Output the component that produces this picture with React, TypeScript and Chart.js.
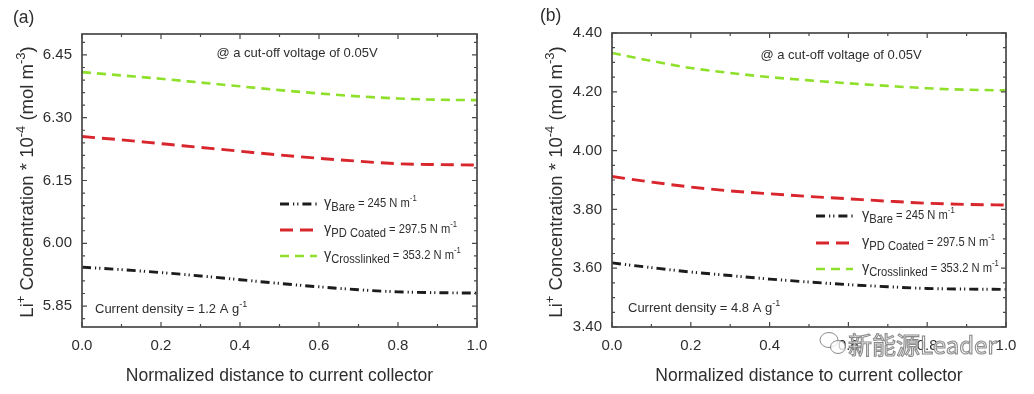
import React, { useEffect, useRef } from "react";
import { Chart, registerables } from "chart.js";

Chart.register(...registerables);

// ---------------- data ----------------
const xPositions = [0, 0.1, 0.2, 0.3, 0.4, 0.5, 0.6, 0.7, 0.8, 0.9, 1.0];

const bareA = [5.943, 5.937, 5.93, 5.922, 5.913, 5.904, 5.896, 5.889, 5.884, 5.882, 5.881];
const pdCoatedA = [6.255, 6.247, 6.238, 6.229, 6.22, 6.211, 6.203, 6.196, 6.19, 6.188, 6.187];
const crosslinkedA = [6.409, 6.401, 6.393, 6.384, 6.375, 6.366, 6.358, 6.351, 6.346, 6.343, 6.342];

const bareB = [3.618, 3.602, 3.587, 3.575, 3.563, 3.553, 3.544, 3.537, 3.531, 3.529, 3.528];
const pdCoatedB = [3.912, 3.893, 3.876, 3.863, 3.853, 3.844, 3.836, 3.828, 3.821, 3.817, 3.815];
const crosslinkedB = [4.332, 4.305, 4.281, 4.264, 4.25, 4.239, 4.229, 4.22, 4.212, 4.207, 4.205];

const xTickValues = [0, 0.2, 0.4, 0.6, 0.8, 1.0];
const yTicksA = [5.85, 6.0, 6.15, 6.3, 6.45];
const yTicksB = [3.4, 3.6, 3.8, 4.0, 4.2, 4.4];

const seriesNames = ["Bare", "PD Coated", "Crosslinked"];
const seriesGamma = ["245", "297.5", "353.2"];

// ---------------- style ----------------
const FONT = "'Liberation Sans', Arial, Helvetica, sans-serif";
const TXT = "#2e2e2e";
const AXIS = "#484848";
const COLORS = ["#1c1c1c", "#d8262c", "#8ee02a"];
const DASHES = [
  [9, 4, 1.2, 3, 1.2, 4],
  [13, 7],
  [9, 6],
];
const WIDTHS = [2.9, 2.9, 2.6];

const W = 517;
const H = 394;

type Seg = { t: string; size: number; dy?: number; sx?: number; family?: string };

function segWidth(ctx: CanvasRenderingContext2D, s: Seg) {
  ctx.font = `${s.size}px ${s.family || FONT}`;
  return ctx.measureText(s.t).width * (s.sx || 1);
}

function segsWidth(ctx: CanvasRenderingContext2D, segs: Seg[]) {
  return segs.reduce((a, s) => a + segWidth(ctx, s), 0);
}

function drawSegs(ctx: CanvasRenderingContext2D, segs: Seg[], x: number, y: number) {
  let cx = x;
  for (const s of segs) {
    const w = segWidth(ctx, s);
    ctx.save();
    ctx.font = `${s.size}px ${s.family || FONT}`;
    ctx.translate(cx, y + (s.dy || 0));
    ctx.scale(s.sx || 1, 1);
    ctx.fillText(s.t, 0, 0);
    ctx.restore();
    cx += w;
  }
  return cx - x;
}

type PanelCfg = {
  key: string;
  offset: number;
  label: string;
  labelX: number;
  labelY: number;
  plotLeft: number;
  plotRight: number;
  plotTop: number;
  yMin: number;
  yMax: number;
  yTicks: number[];
  minorStep: number;
  bare: number[];
  pd: number[];
  cross: number[];
  yTitleX: number;
  noteX: number;
  noteY: number;
  density: string;
  densityX: number;
  densityY: number;
  legendX0: number;
  legendX1: number;
  legendTextX: number;
  legendY: number[];
  watermark: boolean;
};

const panels: PanelCfg[] = [
  {
    key: "a",
    offset: 0,
    label: "(a)",
    labelX: 13,
    labelY: 23,
    plotLeft: 82,
    plotRight: 477,
    plotTop: 34,
    yMin: 5.8,
    yMax: 6.5,
    yTicks: yTicksA,
    minorStep: 0.03,
    bare: bareA,
    pd: pdCoatedA,
    cross: crosslinkedA,
    yTitleX: 26,
    noteX: 297,
    noteY: 57,
    density: "1.2",
    densityX: 95,
    densityY: 313,
    legendX0: 280,
    legendX1: 317,
    legendTextX: 324,
    legendY: [204, 230, 256],
    watermark: false,
  },
  {
    key: "b",
    offset: 517,
    label: "(b)",
    labelX: 23,
    labelY: 21,
    plotLeft: 95,
    plotRight: 489,
    plotTop: 33,
    yMin: 3.4,
    yMax: 4.4,
    yTicks: yTicksB,
    minorStep: 0.05,
    bare: bareB,
    pd: pdCoatedB,
    cross: crosslinkedB,
    yTitleX: 38,
    noteX: 324,
    noteY: 59,
    density: "4.8",
    densityX: 111,
    densityY: 312,
    legendX0: 299,
    legendX1: 336,
    legendTextX: 345,
    legendY: [216, 243, 269],
    watermark: true,
  },
];

function makeDecor(p: PanelCfg) {
  return {
    id: "decor_" + p.key,
    afterDraw(chart: any) {
      const ctx: CanvasRenderingContext2D = chart.ctx;
      const a = chart.chartArea;
      const xs = chart.scales.x;
      const ys = chart.scales.y;
      ctx.save();

      // frame
      ctx.strokeStyle = AXIS;
      ctx.lineWidth = 1.7;
      ctx.strokeRect(a.left, a.top, a.right - a.left, a.bottom - a.top);

      // x ticks (inward, top and bottom)
      ctx.lineWidth = 1.2;
      ctx.beginPath();
      for (let i = 0; i <= 10; i++) {
        const px = xs.getPixelForValue(i / 10);
        const len = i % 2 === 0 ? 5 : 3;
        ctx.moveTo(px, a.bottom);
        ctx.lineTo(px, a.bottom - len);
        ctx.moveTo(px, a.top);
        ctx.lineTo(px, a.top + len);
      }
      // y ticks
      let start = p.yTicks[0];
      while (start - p.minorStep >= p.yMin - 1e-9) start -= p.minorStep;
      for (let v = start; v <= p.yMax + 1e-9; v += p.minorStep) {
        const py = ys.getPixelForValue(v);
        const major = p.yTicks.some((t) => Math.abs(t - v) < 1e-6);
        const len = major ? 5 : 3;
        ctx.moveTo(a.left, py);
        ctx.lineTo(a.left + len, py);
        ctx.moveTo(a.right, py);
        ctx.lineTo(a.right - len, py);
      }
      ctx.stroke();

      ctx.fillStyle = TXT;
      ctx.textBaseline = "alphabetic";
      ctx.textAlign = "left";

      // panel label
      ctx.font = `17.5px ${FONT}`;
      ctx.fillText(p.label, p.labelX, p.labelY);

      // x title
      ctx.font = `17.5px ${FONT}`;
      ctx.textAlign = "center";
      ctx.fillText("Normalized distance to current collector", (a.left + a.right) / 2, 381);
      ctx.textAlign = "left";

      // y title (rotated)
      const ySegs: Seg[] = [
        { t: "Li", size: 18.5 },
        { t: "+", size: 13, dy: -7.5 },
        { t: " Concentration * 10", size: 18.5 },
        { t: "-4", size: 13, dy: -7.5 },
        { t: " (mol m", size: 18.5 },
        { t: "-3", size: 13, dy: -7.5 },
        { t: ")", size: 18.5 },
      ];
      const yw = segsWidth(ctx, ySegs);
      ctx.save();
      ctx.translate(p.yTitleX, 182);
      ctx.rotate(-Math.PI / 2);
      drawSegs(ctx, ySegs, -yw / 2, 6.5);
      ctx.restore();

      // note
      ctx.font = `13px ${FONT}`;
      ctx.textAlign = "center";
      ctx.fillText("@ a cut-off voltage of 0.05V", p.noteX, p.noteY);
      ctx.textAlign = "left";

      // current density
      drawSegs(
        ctx,
        [
          { t: `Current density = ${p.density} A g`, size: 13 },
          { t: "-1", size: 9, dy: -6 },
        ],
        p.densityX,
        p.densityY
      );

      // legend
      for (let i = 0; i < 3; i++) {
        const ly = p.legendY[i];
        ctx.save();
        ctx.strokeStyle = COLORS[i];
        ctx.lineWidth = WIDTHS[i];
        ctx.setLineDash(DASHES[i]);
        ctx.beginPath();
        ctx.moveTo(p.legendX0, ly);
        ctx.lineTo(p.legendX1, ly);
        ctx.stroke();
        ctx.restore();
        ctx.fillStyle = TXT;
        drawSegs(
          ctx,
          [
            { t: "γ", size: 14.5 },
            { t: seriesNames[i], size: 13, dy: 4, sx: 0.86 },
            { t: ` = ${seriesGamma[i]} N m`, size: 13, sx: 0.86 },
            { t: "-1", size: 9, dy: -6, sx: 0.86 },
          ],
          p.legendTextX,
          ly + 3
        );
      }

      // watermark
      if (p.watermark) {
        ctx.save();
        ctx.strokeStyle = "#8a8a8a";
        ctx.fillStyle = "rgba(255,255,255,0.75)";
        ctx.lineWidth = 1;
        ctx.beginPath();
        ctx.ellipse(312, 340, 9, 7.5, 0, 0, Math.PI * 2);
        ctx.fill();
        ctx.stroke();
        ctx.beginPath();
        ctx.ellipse(321, 347, 7.5, 6.5, 0, 0, Math.PI * 2);
        ctx.fill();
        ctx.stroke();
        ctx.font = `24px 'Noto Sans CJK SC', 'Noto Sans', sans-serif`;
        ctx.lineWidth = 1.1;
        ctx.fillStyle = "rgba(255,255,255,0.8)";
        ctx.fillText("新能源Leader", 331, 354);
        ctx.strokeText("新能源Leader", 331, 354);
        ctx.restore();
      }

      ctx.restore();
    },
  };
}

function PanelChart({ p }: { p: PanelCfg }) {
  const ref = useRef<HTMLCanvasElement>(null);
  useEffect(() => {
    if (!ref.current) return;
    const series = [
      { name: seriesNames[0], vals: p.bare, idx: 0 },
      { name: seriesNames[1], vals: p.pd, idx: 1 },
      { name: seriesNames[2], vals: p.cross, idx: 2 },
    ];
    const chart = new Chart(ref.current, {
      type: "line",
      data: {
        datasets: series.map((s) => ({
          label: s.name,
          data: xPositions.map((x, i) => ({ x, y: s.vals[i] })),
          borderColor: COLORS[s.idx],
          borderWidth: WIDTHS[s.idx],
          borderDash: DASHES[s.idx],
          borderCapStyle: "butt",
          pointRadius: 0,
          fill: false,
          cubicInterpolationMode: "monotone",
        })),
      } as any,
      options: {
        animation: false,
        responsive: false,
        devicePixelRatio: 1,
        layout: { padding: { top: p.plotTop, right: W - p.plotRight, bottom: 0, left: 0 } },
        plugins: { legend: { display: false }, tooltip: { enabled: false } },
        scales: {
          x: {
            type: "linear",
            min: 0,
            max: 1,
            afterBuildTicks: (s: any) => {
              s.ticks = xTickValues.map((v) => ({ value: v }));
            },
            afterFit: (s: any) => {
              s.height = H - 327;
            },
            ticks: {
              callback: (v: any) => Number(v).toFixed(1),
              font: { family: FONT, size: 15 },
              color: TXT,
              padding: 10,
              maxRotation: 0,
              autoSkip: false,
            },
            grid: { display: false, drawTicks: false },
            border: { display: false },
          },
          y: {
            type: "linear",
            min: p.yMin,
            max: p.yMax,
            afterBuildTicks: (s: any) => {
              s.ticks = p.yTicks.map((v) => ({ value: v }));
            },
            afterFit: (s: any) => {
              s.width = p.plotLeft;
            },
            ticks: {
              callback: (v: any) => Number(v).toFixed(2),
              font: { family: FONT, size: 15 },
              color: TXT,
              padding: 10,
              autoSkip: false,
            },
            grid: { display: false, drawTicks: false },
            border: { display: false },
          },
        },
      } as any,
      plugins: [makeDecor(p)],
    });
    return () => chart.destroy();
  }, []);
  return (
    <canvas
      ref={ref}
      width={W}
      height={H}
      style={{ position: "absolute", left: p.offset, top: 0, width: W, height: H, display: "block" }}
    />
  );
}

export default function App() {
  return (
    <div style={{ position: "fixed", left: 0, top: 0, width: 1034, height: 394, background: "#ffffff" }}>
      {panels.map((p) => (
        <PanelChart key={p.key} p={p} />
      ))}
    </div>
  );
}
